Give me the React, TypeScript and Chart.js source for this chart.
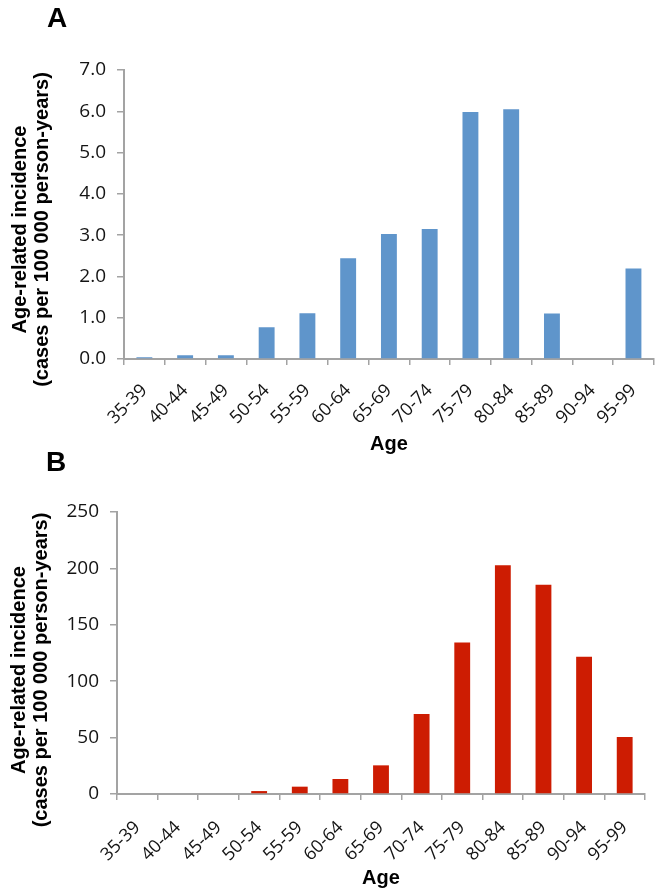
import React, { useEffect, useRef } from "react";
import { Chart, registerables } from "chart.js";

Chart.register(...registerables);

// ---- Data ----
const ageGroups = [
  "35-39", "40-44", "45-49", "50-54", "55-59", "60-64", "65-69",
  "70-74", "75-79", "80-84", "85-89", "90-94", "95-99",
];
const incidenceA = [0.04, 0.09, 0.09, 0.77, 1.11, 2.44, 3.03, 3.15, 5.98, 6.05, 1.1, 0, 2.19];
const incidenceB = [0, 0, 0, 2.6, 6.5, 13.3, 25.4, 70.9, 134.3, 202.8, 185.4, 121.6, 50.5];
const yRangeA = [0, 7];
const yStepA = 1;
const yRangeB = [0, 250];
const yStepB = 50;
const yTitleLines = ["Age-related incidence", "(cases per 100 000 person-years)"];
const xTitle = "Age";

const AXIS_GREY = "#a3a3a3";
const TICK_COLOR = "#141414";
const TICK_FONT = { family: '"Open Sans", "Liberation Sans", sans-serif', size: 19 };
const XTICK_FONT = { family: '"Open Sans", "Liberation Sans", sans-serif', size: 18 };
const BOLD_FAMILY = '"Liberation Sans", Arial, sans-serif';

const yTitlePlugin = {
  id: "yTitleLines",
  afterDraw(chart: any, _args: any, opts: any) {
    const { ctx, chartArea } = chart;
    const cy = (chartArea.top + chartArea.bottom) / 2 + (opts.shift || 0);
    ctx.save();
    ctx.font = `bold 20px ${BOLD_FAMILY}`;
    ctx.fillStyle = "#000";
    ctx.textAlign = "center";
    ctx.textBaseline = "middle";
    (opts.lines || []).forEach((line: string, i: number) => {
      ctx.save();
      ctx.translate(opts.x[i], cy);
      ctx.rotate(-Math.PI / 2);
      ctx.fillText(line, 0, 0);
      ctx.restore();
    });
    ctx.restore();
  },
};

type PanelProps = {
  values: number[];
  color: string;
  yRange: number[];
  yStep: number;
  decimals: number;
  width: number;
  height: number;
  padTop: number;
  padRight: number;
  yAxisWidth: number;
  xAxisHeight: number;
  xTitlePad: number;
  xTickPad: number;
  titleShift: number;
  titleX: number[];
};

function BarPanel(p: PanelProps) {
  const ref = useRef<HTMLCanvasElement | null>(null);
  useEffect(() => {
    if (!ref.current) return;
    const chart = new Chart(ref.current, {
      type: "bar",
      data: {
        labels: ageGroups,
        datasets: [
          {
            data: p.values,
            backgroundColor: p.color,
            borderWidth: 0,
            categoryPercentage: 1,
            barPercentage: 0.39,
          },
        ],
      },
      plugins: [yTitlePlugin as any],
      options: {
        responsive: false,
        animation: false,
        devicePixelRatio: 1,
        layout: { padding: { top: p.padTop, right: p.padRight, left: 0, bottom: 0 } },
        plugins: {
          legend: { display: false },
          tooltip: { enabled: false },
          title: { display: false },
          yTitleLines: { lines: yTitleLines, x: p.titleX, shift: p.titleShift },
        } as any,
        scales: {
          x: {
            grid: {
              display: true,
              drawOnChartArea: false,
              drawTicks: true,
              tickLength: 6,
              color: AXIS_GREY,
              lineWidth: 1.5,
              offset: true,
            },
            border: { display: true, color: AXIS_GREY, width: 2 },
            ticks: {
              autoSkip: false,
              minRotation: 45,
              maxRotation: 45,
              padding: p.xTickPad,
              color: TICK_COLOR,
              font: XTICK_FONT,
            },
            title: {
              display: true,
              text: xTitle,
              color: "#000",
              font: { family: BOLD_FAMILY, size: 20, weight: "bold", lineHeight: 1.1 },
              padding: { top: 0, bottom: p.xTitlePad },
            },
            afterFit: (scale: any) => {
              scale.height = p.xAxisHeight;
            },
          },
          y: {
            min: p.yRange[0],
            max: p.yRange[1],
            grid: {
              display: true,
              drawOnChartArea: false,
              drawTicks: true,
              tickLength: 7,
              color: AXIS_GREY,
              lineWidth: 1.5,
            },
            border: { display: true, color: AXIS_GREY, width: 2 },
            ticks: {
              stepSize: p.yStep,
              padding: 11,
              color: TICK_COLOR,
              font: TICK_FONT,
              callback: (v: any) => Number(v).toFixed(p.decimals),
            },
            afterFit: (scale: any) => {
              scale.width = p.yAxisWidth;
            },
          },
        },
      } as any,
    });
    return () => chart.destroy();
  }, []);
  return <canvas ref={ref} width={p.width} height={p.height} style={{ display: "block" }} />;
}

const panelLabel: React.CSSProperties = {
  position: "absolute",
  fontFamily: BOLD_FAMILY,
  fontWeight: "bold",
  fontSize: 28,
  lineHeight: "28px",
  color: "#000",
};

export default function App() {
  return (
    <div style={{ position: "absolute", left: 0, top: 0, width: 664, height: 896, background: "#fff", overflow: "hidden" }}>
      <div style={{ position: "absolute", left: 0, top: 0 }}>
        <BarPanel
          values={incidenceA}
          color="#5f95cb"
          yRange={yRangeA}
          yStep={yStepA}
          decimals={1}
          width={664}
          height={460}
          padTop={70}
          padRight={7}
          yAxisWidth={124}
          xAxisHeight={101}
          xTitlePad={5}
          xTickPad={15}
          titleShift={15}
          titleX={[20, 42]}
        />
      </div>
      <div style={{ position: "absolute", left: 0, top: 460 }}>
        <BarPanel
          values={incidenceB}
          color="#cd1c02"
          yRange={yRangeB}
          yStep={yStepB}
          decimals={0}
          width={664}
          height={436}
          padTop={52}
          padRight={19}
          yAxisWidth={117}
          xAxisHeight={102}
          xTitlePad={7}
          xTickPad={17}
          titleShift={17}
          titleX={[19, 41]}
        />
      </div>
      <div style={{ ...panelLabel, left: 47, top: 4 }}>A</div>
      <div style={{ ...panelLabel, left: 46, top: 448 }}>B</div>
    </div>
  );
}
